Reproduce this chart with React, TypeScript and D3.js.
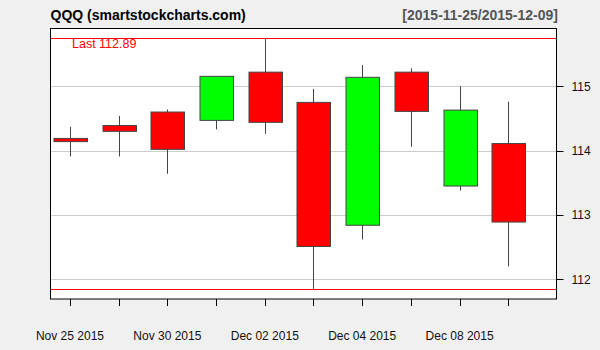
import React from "react";
import * as d3 from "d3";

const dates = ["Nov 25 2015", "Nov 27 2015", "Nov 30 2015", "Dec 01 2015", "Dec 02 2015", "Dec 03 2015", "Dec 04 2015", "Dec 07 2015", "Dec 08 2015", "Dec 09 2015"];
const opens = [114.19, 114.39, 114.6, 114.47, 115.22, 114.75, 112.84, 115.22, 113.45, 114.11];
const highs = [114.37, 114.54, 114.64, 115.16, 115.746, 114.96, 115.33, 115.28, 115.0, 114.76];
const lows = [113.91, 113.91, 113.64, 114.33, 114.26, 111.85, 112.62, 114.06, 113.38, 112.2];
const closes = [114.14, 114.3, 114.02, 115.155, 114.44, 112.51, 115.14, 114.61, 114.63, 112.89];
const yTicks = [112, 113, 114, 115];
const xLabelIdx = [0, 2, 4, 6, 8];
const title = "QQQ (smartstockcharts.com)";
const range = "[2015-11-25/2015-12-09]";
const lastLabel = "Last 112.89";

export default function App() {
  const W = 600, H = 350;
  const left = 50.5, right = 556.5, top = 28.5, bottom = 299;
  const x = d3.scaleLinear().domain([-0.4, 9.99]).range([left, right]);
  const y = d3.scaleLinear().domain([112, 115]).range([279.3, 86.3]);
  const bw = 33.5;
  const maxH = d3.max(highs) as number;
  const minL = d3.min(lows) as number;
  const font = "'Liberation Sans', Arial, sans-serif";
  return (
    <svg width={W} height={H} style={{ position: "absolute", left: 0, top: 0, display: "block" }} fontFamily={font}>
      <rect x={0} y={0} width={W} height={H} fill="#f0f0f0" />
      <rect x={left} y={top} width={right - left} height={bottom - top} fill="#ffffff" />
      {yTicks.map((t) => (
        <line key={"g" + t} x1={left} x2={right} y1={Math.round(y(t)) + 0.5} y2={Math.round(y(t)) + 0.5} stroke="#cccccc" strokeWidth={1} />
      ))}
      <line x1={left} x2={right} y1={Math.round(y(maxH)) + 0.5} y2={Math.round(y(maxH)) + 0.5} stroke="#ff0000" strokeWidth={1} />
      <line x1={left} x2={right} y1={Math.round(y(minL)) + 0.5} y2={Math.round(y(minL)) + 0.5} stroke="#ff0000" strokeWidth={1} />
      {dates.map((d, i) => {
        const cx = Math.round(x(i)) + 0.5;
        const up = closes[i] >= opens[i];
        const yt = y(Math.max(opens[i], closes[i]));
        const yb = y(Math.min(opens[i], closes[i]));
        return (
          <g key={d}>
            <line x1={cx} x2={cx} y1={y(highs[i])} y2={y(lows[i])} stroke="#444444" strokeWidth={1} />
            <rect x={Math.round(cx - bw / 2)} y={yt} width={bw} height={Math.max(yb - yt, 1)} fill={up ? "#00ff00" : "#ff0000"} stroke="#444444" strokeWidth={1} />
          </g>
        );
      })}
      <text x={72} y={47.5} fill="#ff0000" fontSize={12.5}>{lastLabel}</text>
      <rect x={left} y={top} width={right - left} height={bottom - top} fill="none" stroke="#000000" strokeWidth={1} />
      {dates.map((d, i) => (
        <line key={"t" + d} x1={Math.round(x(i)) + 0.5} x2={Math.round(x(i)) + 0.5} y1={bottom} y2={bottom + 7} stroke="#000000" strokeWidth={1} />
      ))}
      {xLabelIdx.map((i) => (
        <text key={"l" + i} x={x(i)} y={340} textAnchor="middle" fontSize={12} fill="#111111">{dates[i]}</text>
      ))}
      {yTicks.map((t) => (
        <g key={"yt" + t}>
          <line x1={right} x2={right + 7} y1={Math.round(y(t)) + 0.5} y2={Math.round(y(t)) + 0.5} stroke="#000000" strokeWidth={1} />
          <text x={571.5} y={y(t) + 4.5} fontSize={12} fill="#111111">{t}</text>
        </g>
      ))}
      <text x={50.5} y={20} fontSize={14} fontWeight="bold" fill="#000000">{title}</text>
      <text x={558} y={20} fontSize={14} fontWeight="bold" fill="#555555" textAnchor="end">{range}</text>
    </svg>
  );
}
